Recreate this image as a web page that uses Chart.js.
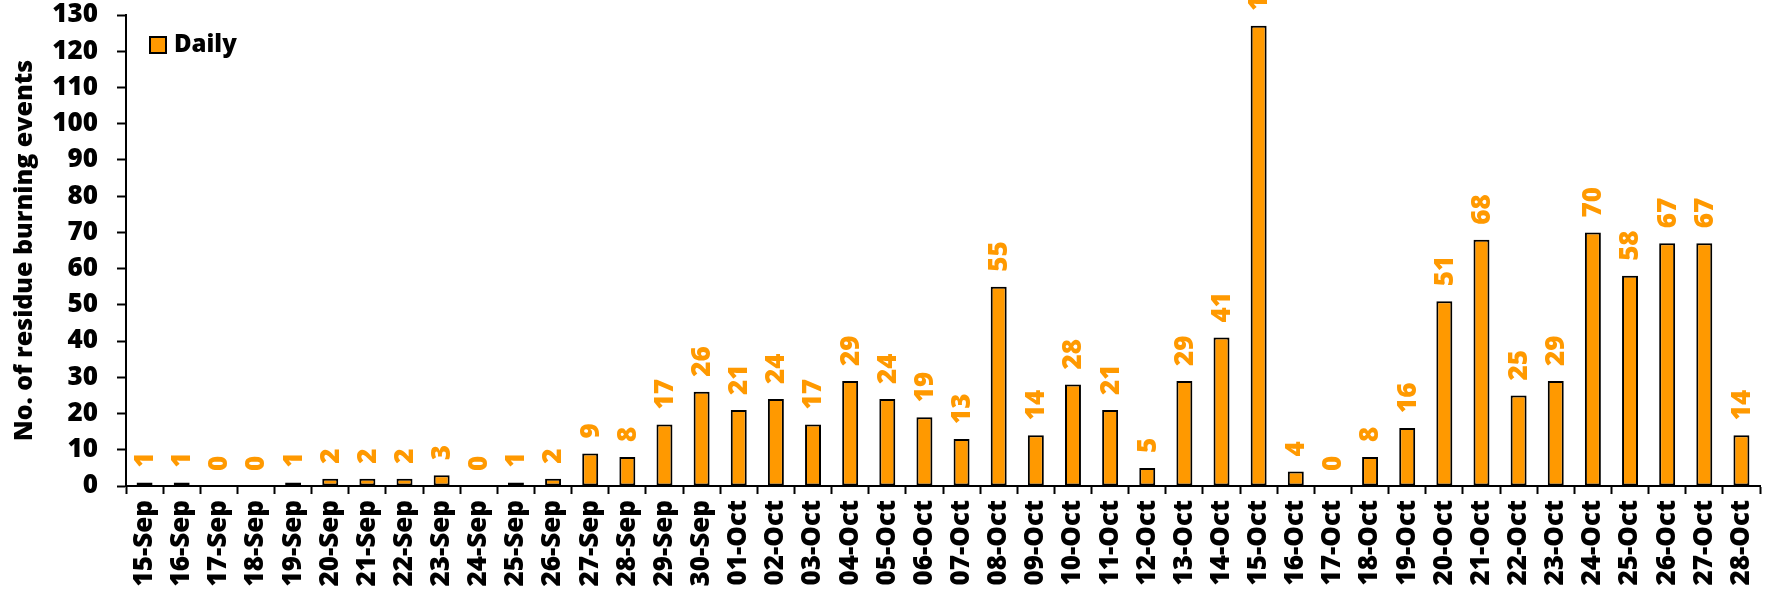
<!DOCTYPE html>
<html>
<head>
<meta charset="utf-8">
<title>Daily residue burning events</title>
<script src="https://cdn.jsdelivr.net/npm/chart.js@4/dist/chart.umd.min.js"></script>
<style>
  html, body { margin: 0; padding: 0; background: #fff; }
  #wrap { width: 1773px; height: 598px; position: relative; }
</style>
</head>
<body>
<div id="wrap"><canvas id="burnChart"></canvas></div>
<script>
// ─── Data ────────────────────────────────────────────────────────────────────
const dates = [
  '15-Sep', '16-Sep', '17-Sep', '18-Sep', '19-Sep', '20-Sep', '21-Sep', '22-Sep',
  '23-Sep', '24-Sep', '25-Sep', '26-Sep', '27-Sep', '28-Sep', '29-Sep', '30-Sep',
  '01-Oct', '02-Oct', '03-Oct', '04-Oct', '05-Oct', '06-Oct', '07-Oct', '08-Oct',
  '09-Oct', '10-Oct', '11-Oct', '12-Oct', '13-Oct', '14-Oct', '15-Oct', '16-Oct',
  '17-Oct', '18-Oct', '19-Oct', '20-Oct', '21-Oct', '22-Oct', '23-Oct', '24-Oct',
  '25-Oct', '26-Oct', '27-Oct', '28-Oct'
];
const dailyEvents = [
  1, 1, 0, 0, 1, 2, 2, 2,
  3, 0, 1, 2, 9, 8, 17, 26,
  21, 24, 17, 29, 24, 19, 13, 55,
  14, 28, 21, 5, 29, 41, 127, 4,
  0, 8, 16, 51, 68, 25, 29, 70,
  58, 67, 67, 14
];
const yMin = 0;
const yMax = 130;
const yStep = 10;

const ORANGE = '#FF9900';
const FONT = '"Open Sans", "Noto Sans", sans-serif';
const WEIGHT = '800';

// ─── Value labels above each bar (rotated) ───────────────────────────────────
const barValueLabels = {
  id: 'barValueLabels',
  afterDatasetsDraw(chart) {
    const ctx = chart.ctx;
    const meta = chart.getDatasetMeta(0);
    const values = chart.data.datasets[0].data;
    ctx.save();
    ctx.fillStyle = ORANGE;
    ctx.font = WEIGHT + ' 26px ' + FONT;
    ctx.textAlign = 'left';
    ctx.textBaseline = 'middle';
    meta.data.forEach((bar, i) => {
      ctx.save();
      ctx.translate(bar.x + 1, bar.y - 15);
      ctx.rotate(-Math.PI / 2);
      ctx.fillText(String(values[i]), 0, 0);
      ctx.restore();
    });
    ctx.restore();
  }
};

// ─── Legend drawn inside the plot area ───────────────────────────────────────
const insideLegend = {
  id: 'insideLegend',
  afterDraw(chart) {
    const ctx = chart.ctx;
    const ds = chart.data.datasets[0];
    const x = chart.chartArea.left + 24;
    const y = chart.chartArea.top + 22;
    ctx.save();
    ctx.fillStyle = ds.backgroundColor;
    ctx.strokeStyle = ds.borderColor;
    ctx.lineWidth = 2;
    ctx.fillRect(x, y, 16, 16);
    ctx.strokeRect(x, y, 16, 16);
    ctx.fillStyle = '#000';
    ctx.font = WEIGHT + ' 24px ' + FONT;
    ctx.textAlign = 'left';
    ctx.textBaseline = 'middle';
    ctx.fillText(ds.label, x + 24, y + 8);
    ctx.restore();
  }
};

// ─── Chart ───────────────────────────────────────────────────────────────────
function initBurnChart(canvasId = 'burnChart') {
  const canvas = document.getElementById(canvasId);
  if (!canvas) return;

  return new Chart(canvas.getContext('2d'), {
    type: 'bar',
    data: {
      labels: dates,
      datasets: [{
        label: 'Daily',
        data: dailyEvents,
        backgroundColor: ORANGE,
        borderColor: '#000',
        borderWidth: 2,
        borderSkipped: false,
        categoryPercentage: 1,
        barPercentage: 0.43,
      }]
    },
    options: {
      responsive: true,
      maintainAspectRatio: false,
      devicePixelRatio: 1,
      animation: false,
      layout: { padding: { top: 15, right: 13, left: 0, bottom: 0 } },
      plugins: {
        legend: { display: false },
        tooltip: { enabled: false },
      },
      scales: {
        x: {
          offset: true,
          grid: {
            offset: true,
            drawOnChartArea: false,
            drawTicks: true,
            tickLength: 8,
            tickWidth: 2,
            tickColor: '#000',
          },
          border: { display: true, color: '#000', width: 2 },
          ticks: {
            color: '#000',
            font: { family: FONT, size: 26, weight: WEIGHT },
            minRotation: 90,
            maxRotation: 90,
            autoSkip: false,
            padding: 6,
          },
          afterFit(scale) {
            scale.height = 112;
            scale.paddingLeft = 0;
            scale.paddingRight = 0;
          },
        },
        y: {
          min: yMin,
          max: yMax,
          grid: {
            drawOnChartArea: false,
            drawTicks: true,
            tickLength: 9,
            tickWidth: 2,
            tickColor: '#000',
          },
          border: { display: true, color: '#000', width: 2 },
          ticks: {
            stepSize: yStep,
            color: '#000',
            font: { family: FONT, size: 26, weight: WEIGHT },
            padding: 19,
          },
          title: {
            display: true,
            text: 'No. of residue burning events',
            color: '#000',
            font: { family: FONT, size: 25, weight: WEIGHT },
            padding: { top: 10, bottom: 0 },
          },
          afterFit(scale) {
            scale.width = 126;
            scale.paddingTop = 0;
            scale.paddingBottom = 0;
          },
        }
      }
    },
    plugins: [barValueLabels, insideLegend]
  });
}

initBurnChart();
</script>
</body>
</html>
